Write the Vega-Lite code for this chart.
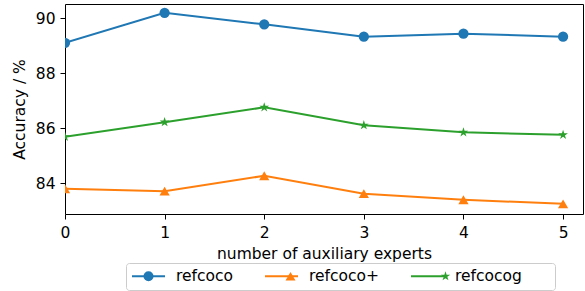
{
  "$schema": "https://vega.github.io/schema/vega-lite/v6.json",
  "autosize": {"type": "none"},
  "width": 518,
  "height": 210,
  "padding": {"left": 65, "top": 4, "right": 2, "bottom": 77},
  "background": "white",
  "config": {
    "font": "DejaVu Sans",
    "view": {"stroke": "black", "strokeWidth": 1},
    "axis": {
      "domain": false,
      "grid": false,
      "ticks": true,
      "tickColor": "black",
      "tickSize": 5,
      "tickWidth": 1,
      "labelFont": "DejaVu Sans",
      "labelFontSize": 15.5,
      "labelColor": "black",
      "labelFlush": false,
      "labelOverlap": false,
      "titleFont": "DejaVu Sans",
      "titleFontSize": 15.5,
      "titleFontWeight": "normal",
      "titleColor": "black"
    }
  },
  "data": {
    "values": [
      {"x": 0, "series": "refcoco", "acc": 89.11},
      {"x": 1, "series": "refcoco", "acc": 90.2},
      {"x": 2, "series": "refcoco", "acc": 89.78},
      {"x": 3, "series": "refcoco", "acc": 89.33},
      {"x": 4, "series": "refcoco", "acc": 89.44},
      {"x": 5, "series": "refcoco", "acc": 89.33},
      {"x": 0, "series": "refcoco+", "acc": 83.8},
      {"x": 1, "series": "refcoco+", "acc": 83.71},
      {"x": 2, "series": "refcoco+", "acc": 84.27},
      {"x": 3, "series": "refcoco+", "acc": 83.62},
      {"x": 4, "series": "refcoco+", "acc": 83.4},
      {"x": 5, "series": "refcoco+", "acc": 83.25},
      {"x": 0, "series": "refcocog", "acc": 85.69},
      {"x": 1, "series": "refcocog", "acc": 86.22},
      {"x": 2, "series": "refcocog", "acc": 86.76},
      {"x": 3, "series": "refcocog", "acc": 86.11},
      {"x": 4, "series": "refcocog", "acc": 85.85},
      {"x": 5, "series": "refcocog", "acc": 85.76}
    ]
  },
  "encoding": {
    "x": {
      "field": "x",
      "type": "quantitative",
      "scale": {"domain": [0, 5.2], "nice": false, "zero": false},
      "axis": {"values": [0, 1, 2, 3, 4, 5], "title": "number of auxiliary experts", "titlePadding": 6, "labelPadding": 6, "format": "d"}
    },
    "y": {
      "field": "acc",
      "type": "quantitative",
      "scale": {"domain": [82.88, 90.52], "nice": false, "zero": false},
      "axis": {"values": [84, 86, 88, 90], "title": "Accuracy / %", "titlePadding": 8, "labelPadding": 5, "format": "d"}
    }
  },
  "layer": [
    {
      "mark": {"type": "line", "strokeWidth": 2, "clip": true},
      "encoding": {
        "stroke": {
          "field": "series",
          "type": "nominal",
          "scale": {"range": ["#1f77b4", "#ff7f0e", "#2ca02c"]},
          "legend": {
            "title": null,
            "orient": "none",
            "legendX": 61,
            "legendY": 259,
            "direction": "horizontal",
            "columns": 3,
            "columnPadding": 30,
            "symbolType": "stroke",
            "symbolSize": 1089,
            "symbolStrokeWidth": 2,
            "clipHeight": 16,
            "labelOffset": 10,
            "labelFontSize": 15.5,
            "labelFont": "DejaVu Sans",
            "labelColor": "black",
            "padding": 5
          }
        }
      }
    },
    {
      "mark": {"type": "point", "filled": true, "size": 105, "opacity": 1, "clip": true},
      "encoding": {
        "fill": {
          "field": "series",
          "type": "nominal",
          "scale": {"domain": ["refcoco", "refcoco+", "refcocog"], "range": ["#1f77b4", "#ff7f0e", "#2ca02c"]},
          "legend": {
            "title": null,
            "orient": "none",
            "legendX": 61,
            "legendY": 259,
            "direction": "horizontal",
            "columns": 3,
            "columnPadding": 30,
            "symbolSize": 100,
            "symbolStrokeWidth": 0,
            "symbolOpacity": 1,
            "symbolOffset": 9.75,
            "clipHeight": 16,
            "labelOffset": 29.5,
            "labelFontSize": 15.5,
            "labelFont": "DejaVu Sans",
            "labelOpacity": 0,
            "padding": 5,
            "strokeColor": "#cccccc",
            "cornerRadius": 3
          }
        },
        "shape": {
          "field": "series",
          "type": "nominal",
          "scale": {"domain": ["refcoco", "refcoco+", "refcocog"], "range": ["circle", "triangle-up", "M0,-1L0.2245,-0.309L0.951,-0.309L0.363,0.118L0.588,0.809L0,0.382L-0.588,0.809L-0.363,0.118L-0.951,-0.309L-0.2245,-0.309Z"]},
          "legend": {
            "title": null,
            "orient": "none",
            "legendX": 61,
            "legendY": 259,
            "direction": "horizontal",
            "columns": 3,
            "columnPadding": 30,
            "symbolSize": 100,
            "symbolStrokeWidth": 0,
            "symbolOpacity": 1,
            "symbolOffset": 9.75,
            "clipHeight": 16,
            "labelOffset": 29.5,
            "labelFontSize": 15.5,
            "labelFont": "DejaVu Sans",
            "labelOpacity": 0,
            "padding": 5,
            "strokeColor": "#cccccc",
            "cornerRadius": 3
          }
        }
      }
    }
  ]
}
